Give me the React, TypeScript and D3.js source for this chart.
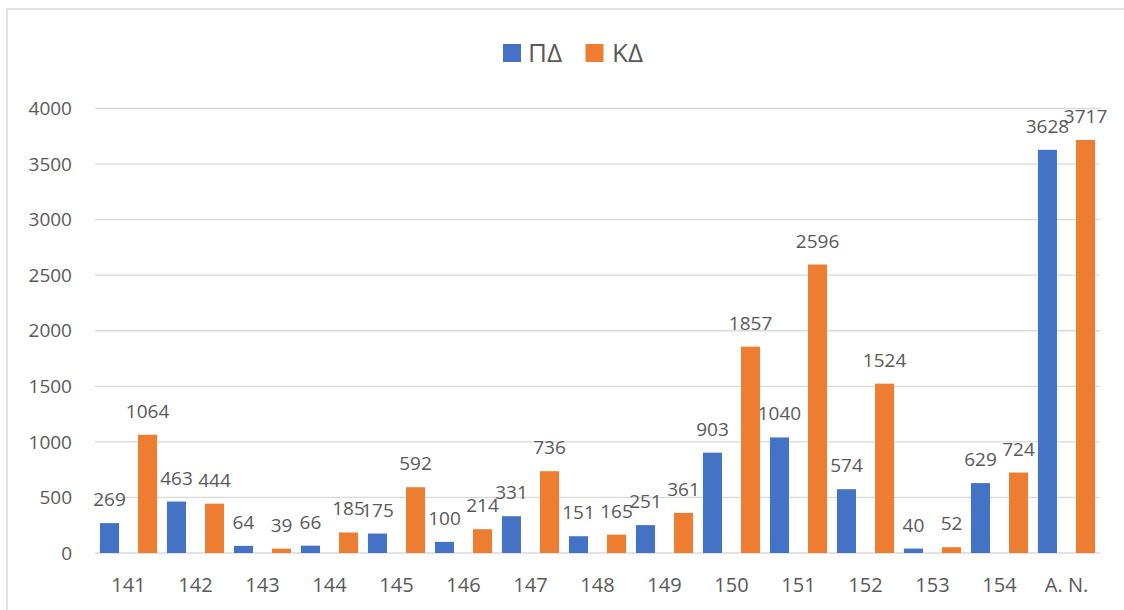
import React from "react";
import * as d3 from "d3";

const categories = ["141", "142", "143", "144", "145", "146", "147", "148", "149", "150", "151", "152", "153", "154", "A. N."];
const seriesNames = ["ΠΔ", "ΚΔ"];
const pdValues = [269, 463, 64, 66, 175, 100, 331, 151, 251, 903, 1040, 574, 40, 629, 3628];
const kdValues = [1064, 444, 39, 185, 592, 214, 736, 165, 361, 1857, 2596, 1524, 52, 724, 3717];
const yTicks = [0, 500, 1000, 1500, 2000, 2500, 3000, 3500, 4000];
const colors = ["#4472C4", "#ED7D31"];

const W = 1124;
const H = 610;
const FONT = "'Open Sans', 'Noto Sans', sans-serif";
const TEXT = "#595959";

export default function App() {
  const left = 95;
  const right = 1100;
  const top = 108.5;
  const bottom = 553;

  const x0 = d3.scaleBand().domain(categories).range([left, right]).padding(0);
  const x1 = d3
    .scaleBand()
    .domain(seriesNames)
    .range([0, x0.bandwidth()])
    .paddingInner(0.5)
    .paddingOuter(0.13);
  const y = d3.scaleLinear().domain([0, 4000]).range([bottom, top]);

  const series = [pdValues, kdValues];

  return (
    <svg
      width={W}
      height={H}
      style={{ position: "absolute", left: 0, top: 0, background: "#fff" }}
      fontFamily={FONT}
    >
      <rect x={7} y={9} width={W + 20} height={H + 20} fill="#fff" stroke="#d9d9d9" strokeWidth={1.5} />

      {/* gridlines */}
      {yTicks.map((t) => (
        <line key={t} x1={left} x2={right} y1={y(t)} y2={y(t)} stroke="#d9d9d9" strokeWidth={1.3} />
      ))}

      {/* y tick labels */}
      {yTicks.map((t) => (
        <text key={t} x={72} y={y(t)} dy="0.35em" textAnchor="end" fontSize={19} fill={TEXT}>
          {t}
        </text>
      ))}

      {/* bars */}
      {series.map((vals, si) =>
        vals.map((v, i) => (
          <rect
            key={`${si}-${i}`}
            x={(x0(categories[i]) as number) + (x1(seriesNames[si]) as number)}
            y={y(v)}
            width={x1.bandwidth()}
            height={bottom - y(v)}
            fill={colors[si]}
          />
        ))
      )}

      {/* data labels */}
      {series.map((vals, si) =>
        vals.map((v, i) => (
          <text
            key={`l${si}-${i}`}
            x={(x0(categories[i]) as number) + (x1(seriesNames[si]) as number) + x1.bandwidth() / 2}
            y={y(v) - 17}
            textAnchor="middle"
            fontSize={19}
            fill={TEXT}
          >
            {v}
          </text>
        ))
      )}

      {/* category labels */}
      {categories.map((c) => (
        <text
          key={c}
          x={(x0(c) as number) + x0.bandwidth() / 2}
          y={591.5}
          textAnchor="middle"
          fontSize={20}
          fill={TEXT}
        >
          {c}
        </text>
      ))}

      {/* legend */}
      <g>
        <rect x={503} y={44} width={18} height={18} fill={colors[0]} />
        <text x={528} y={62} fontSize={26} fill={TEXT}>
          {seriesNames[0]}
        </text>
        <rect x={585.5} y={44} width={18} height={18} fill={colors[1]} />
        <text x={612} y={62} fontSize={26} fill={TEXT}>
          {seriesNames[1]}
        </text>
      </g>
    </svg>
  );
}
